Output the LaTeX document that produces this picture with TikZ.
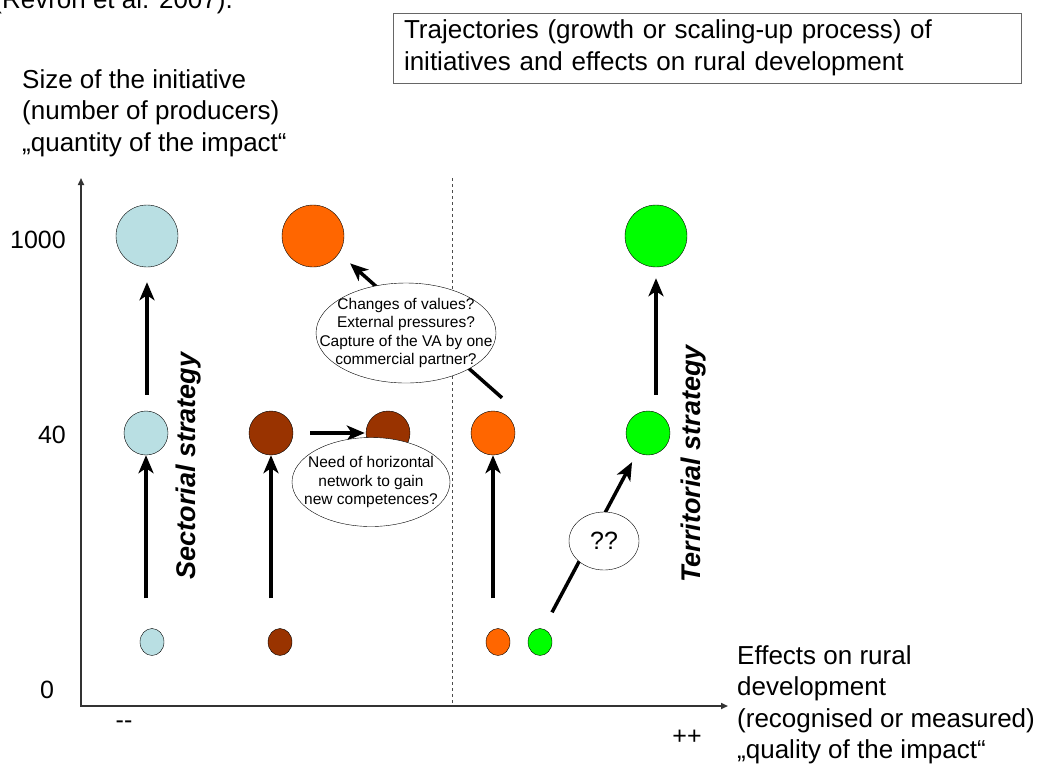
\documentclass[tikz,border=0pt]{standalone}
\usepackage{fontspec}
\setmainfont{Liberation Sans}
\usetikzlibrary{arrows.meta,shapes.geometric}

\definecolor{paleblue}{HTML}{B9DFE3}
\definecolor{rust}{HTML}{993300}
\definecolor{tangerine}{HTML}{FF6600}
\definecolor{brightgreen}{HTML}{00FF00}

\tikzset{
  big/.style={circle,draw,thin,minimum size=62pt,inner sep=0pt},
  mid/.style={circle,draw,thin,minimum size=44pt,inner sep=0pt},
  small/.style={ellipse,draw,thin,minimum width=24pt,minimum height=27pt,inner sep=0pt},
  trajectory/.style={line width=3.5pt,-{Stealth[length=18pt,width=15pt,inset=5pt]}},
  axis/.style={line width=1.6pt,draw=black!80,{Triangle[length=7pt,width=6pt]}-{Triangle[length=7pt,width=6pt]}},
  bubble/.style={ellipse,draw,thin,fill=white,inner sep=0pt},
  bubbletext/.style={align=center,inner sep=0pt,font=\fontsize{15.5}{18.3}\selectfont},
  biglabel/.style={inner sep=0pt,font=\fontsize{26}{31.5}\selectfont},
  tick/.style={inner sep=0pt,font=\fontsize{25}{30}\selectfont},
  strategy/.style={rotate=90,inner sep=0pt,font=\fontsize{27}{31}\selectfont\bfseries\itshape},
}

\begin{document}
\begin{tikzpicture}[x=1pt,y=-1pt]
\useasboundingbox (0,0) rectangle (1043,764);

% reference line cut at the top edge
\begin{scope}
\clip (0,0) rectangle (1043,764);
\node[biglabel,anchor=base east] (cite) at (233,8) {(Revron et al. 2007).};
\end{scope}

% title box
\node[draw=black!60,thin,biglabel,text width=606pt,inner xsep=11pt,minimum height=70pt,align=left] (title) at (707,48)
  {Trajectories (growth or scaling-up process) of\\initiatives and effects on rural development};

% axes
\coordinate (O) at (81,706);
\coordinate (ytop) at (81,178);
\coordinate (xend) at (728,706);
\draw[axis] (ytop) -- (O) -- (xend);
\node[biglabel,anchor=west,align=left] (ylabel) at (22,113)
  {Size of the initiative\\(number of producers)\\„quantity of the impact“};
\node[biglabel,anchor=west,align=left] (xlabel) at (737,705)
  {Effects on rural\\development\\(recognised or measured)\\„quality of the impact“};

% ticks
\node[tick] (t1000) at (38,240) {1000};
\node[tick] (t40) at (52,435) {40};
\node[tick] (t0) at (47,690) {0};
\node[tick] (minus) at (124,725) {-{}-};
\node[tick] (plus) at (687,737) {++};

% split between the two strategies
\coordinate (split) at (452,178);
\draw[dashed,black!70,thin] (split) -- (split |- O);

% initiatives: small, medium, large
\node[small,fill=paleblue] (lb1) at (152,642) {};
\node[mid,fill=paleblue] (lb2) at (146,433) {};
\node[big,fill=paleblue] (lb3) at (147,236) {};

\node[small,fill=rust] (br1) at (280,642) {};
\node[mid,fill=rust] (br2) at (271,433) {};
\node[mid,fill=rust] (br3) at (388,433) {};

\node[small,fill=tangerine] (or1) at (498,642) {};
\node[mid,fill=tangerine] (or2) at (493,433) {};
\node[big,fill=tangerine] (or3) at (313,236) {};

\node[small,fill=brightgreen] (gr1) at (540,642) {};
\node[mid,fill=brightgreen] (gr2) at (648,433) {};
\node[big,fill=brightgreen] (gr3) at (656,236) {};

% trajectories
\draw[trajectory,shorten <=30pt] (lb2 |- lb1.north) -- (lb2.south);
\draw[trajectory,shorten <=16pt,shorten >=15pt] (lb3 |- lb2.north) -- (lb3.south);
\draw[trajectory,shorten <=30pt] (br2 |- br1.north) -- (br2.south);
\draw[trajectory,shorten <=17pt,shorten >=1pt] (br2.east) -- (br3.west);
\draw[trajectory,shorten <=30pt] (or2 |- or1.north) -- (or2.south);
\draw[trajectory,shorten >=15pt] ([xshift=9pt,yshift=13pt]or2.north) -- (or3.-34);
\draw[trajectory,shorten <=16pt,shorten >=11pt] (gr3 |- gr2.north) -- (gr3.south);
\draw[trajectory,shorten >=11pt] ([xshift=12pt,yshift=16pt]gr1.north) -- (gr2.241);

% questions on the way
\node[bubble,minimum width=180pt,minimum height=100pt] (values) at (406,333) {};
\node[bubbletext] (valuestext) at (values) {Changes of values?\\External pressures?\\Capture of the VA by one\\commercial partner?};
\node[bubble,minimum width=158pt,minimum height=89pt] (network) at (371,482) {};
\node[bubbletext] (networktext) at (network) {Need of horizontal\\network to gain\\new competences?};
\node[bubble,minimum width=70pt,minimum height=58pt] (unknown) at (604,541) {};
\node[tick] (unknowntext) at (unknown) {??};

% strategies
\node[strategy] (sector) at (189,466) {Sectorial strategy};
\node[strategy] (territory) at (694,464) {Territorial strategy};

\end{tikzpicture}
\end{document}
